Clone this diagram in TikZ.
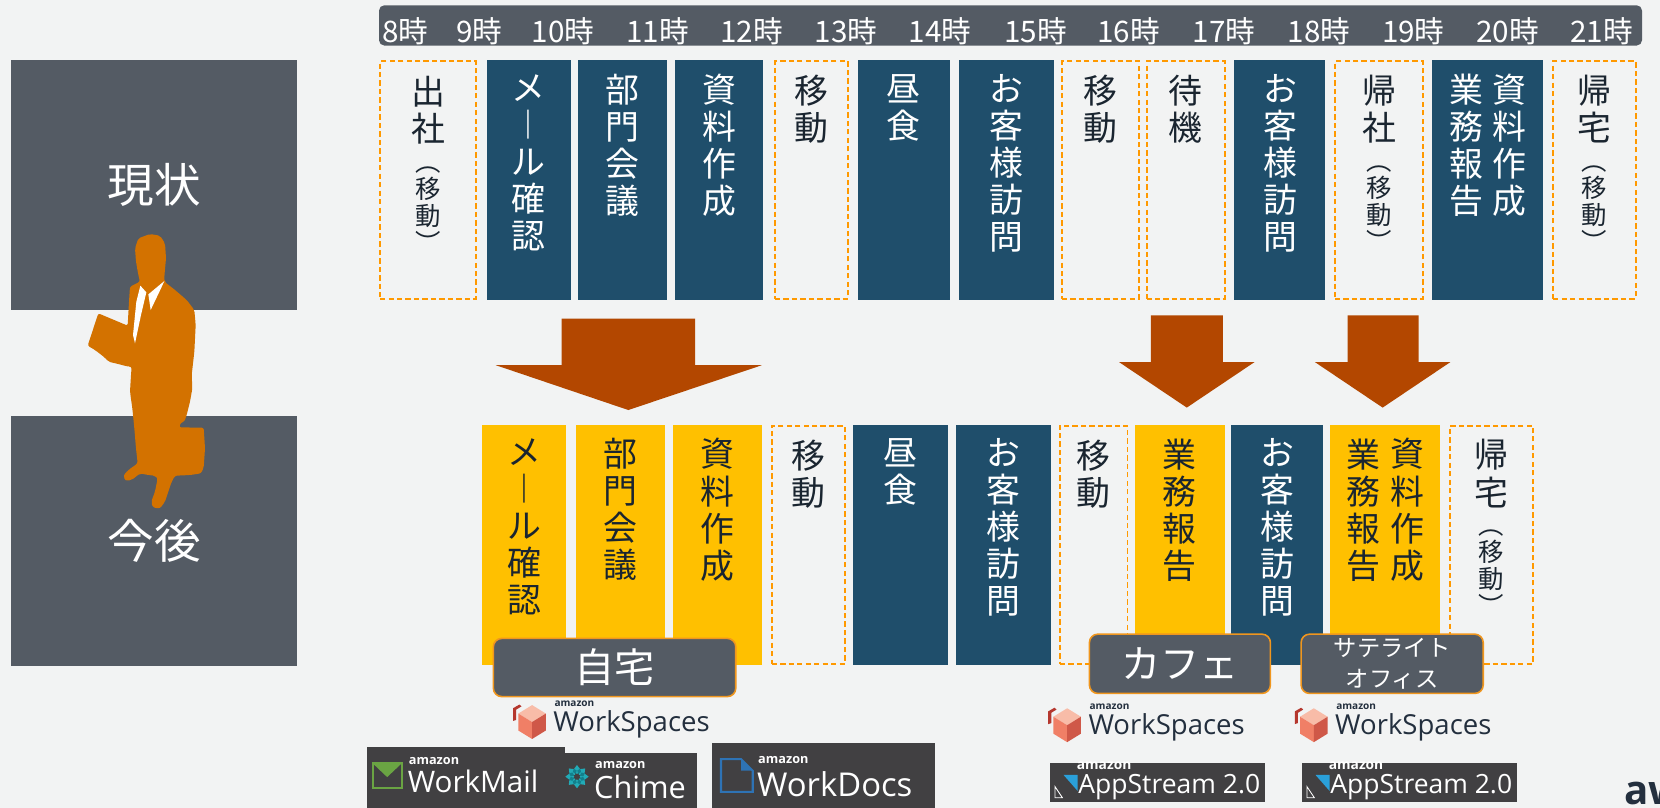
\documentclass[tikz,border=0pt]{standalone}
\usepackage{fontspec}
\setmainfont{Noto Sans CJK JP}
\newfontfamily\logofont{Open Sans}
\usetikzlibrary{positioning}

\definecolor{bg}{HTML}{F2F3F3}
\definecolor{slate}{HTML}{545B64}
\definecolor{navy}{HTML}{1F4E6B}
\definecolor{gold}{HTML}{FFC000}
\definecolor{dashorange}{HTML}{FF9900}
\definecolor{ink}{HTML}{1A2530}
\definecolor{suit}{HTML}{D37200}
\definecolor{rust}{HTML}{B34700}
\definecolor{rim}{HTML}{F0961E}
\definecolor{logobg}{HTML}{414042}
\definecolor{awsink}{HTML}{232F3E}
\definecolor{wsred}{HTML}{B5372E}
\definecolor{wslight}{HTML}{F8BCA8}
\definecolor{wsmid}{HTML}{F07F66}
\definecolor{wsdark}{HTML}{CF5848}
\definecolor{mailgreen}{HTML}{6AA443}
\definecolor{chimeteal}{HTML}{22AAB6}
\definecolor{chimedeep}{HTML}{12808C}
\definecolor{docsblue}{HTML}{2E73B5}
\definecolor{streamblue}{HTML}{2AA0DA}

\tikzset{
  panel/.style={fill=slate, text=white, minimum width=271pt, minimum height=236pt, inner sep=0pt, font=\fontsize{44}{48}\selectfont},
  hour/.style={anchor=base, text=white, inner sep=0pt, font=\fontsize{28}{30}\selectfont},
  slot/.style={rectangle, inner sep=0pt, outer sep=0pt},
  busy/.style={slot, fill=navy},
  remote/.style={slot, fill=gold},
  transit/.style={slot, draw=dashorange, line width=1.8pt, dash pattern=on 5pt off 3pt},
  coltext/.style={anchor=north, inner sep=0pt, align=center, font=\fontsize{32}{35}\selectfont},
  subtext/.style={inner sep=0pt, align=center, font=\fontsize{24}{25.5}\selectfont},
  place/.style={rounded corners=8pt, fill=slate, draw=rim, line width=1.5pt, text=white, inner sep=0pt},
  amz/.style={inner sep=0pt, anchor=base west, font=\logofont\bfseries\fontsize{12}{12}\selectfont},
  brand/.style={inner sep=0pt, anchor=base west, font=\logofont\fontsize{28}{30}\selectfont},
}

% WorkSpaces wordmark, origin at the top left of the cube
\tikzset{
  workspaces/.pic={
    \fill[wsred] (0,3) -- (6,-0.5) -- (8,1.2) -- (3,4.3) -- (3,14) -- (0,15) -- cycle;
    \fill[wslight] (18,0) -- (31,8) -- (18,16) -- (5,8) -- cycle;
    \fill[wsmid] (5,8) -- (18,16) -- (18,32) -- (5,24) -- cycle;
    \fill[wsdark] (18,16) -- (31,8) -- (31,24) -- (18,32) -- cycle;
    \node[amz, text=awsink, font=\logofont\bfseries\fontsize{9.5}{10}\selectfont] (-amz) at (39,1.5) {amazon};
    \node[brand, text=awsink, font=\logofont\fontsize{26}{30}\selectfont] (-name) at (38,25) {WorkSpaces};
  },
  appstream/.pic={
    \fill[logobg] (0,0) rectangle (203,37);
    \fill[streamblue] (12.6,11) -- (25.8,11) -- (25.8,26) -- cycle;
    \draw[white, line width=0.8pt] (4.5,22) -- (4.5,32.5) -- (11.5,32.5) -- cycle;
    \node[amz, text=white, font=\logofont\bfseries\fontsize{13}{13}\selectfont] (-amz) at (25,6) {amazon};
    \node[brand, text=white, font=\logofont\fontsize{25}{28}\selectfont] (-name) at (26.5,28.3) {AppStream 2.0};
  },
}

\begin{document}
\begin{tikzpicture}[x=1pt,y=-1pt]
  \useasboundingbox (0,0) rectangle (1568,763);
  \clip (0,0) rectangle (1568,763);
  \fill[bg] (0,0) rectangle (1568,763);

  % left panels
  \node[panel] (now) at (145.5,175) {現状};
  \node[panel] (next) at (145.5,511) {今後};

  % hours
  \node[fill=slate, rounded corners=5pt, minimum width=1193pt, minimum height=38pt, inner sep=0pt] (timebar) at (954.5,24) {};
  \node[hour] (h8) at (383,40) {8時};
  \node[hour] (h9) at (453,40) {9時};
  \node[hour] (h10) at (532,40) {10時};
  \node[hour] (h11) at (621,40) {11時};
  \node[hour] (h12) at (710,40) {12時};
  \node[hour] (h13) at (799,40) {13時};
  \node[hour] (h14) at (888,40) {14時};
  \node[hour] (h15) at (978,40) {15時};
  \node[hour] (h16) at (1066,40) {16時};
  \node[hour] (h17) at (1156,40) {17時};
  \node[hour] (h18) at (1246,40) {18時};
  \node[hour] (h19) at (1335,40) {19時};
  \node[hour] (h20) at (1424,40) {20時};
  \node[hour] (h21) at (1513,40) {21時};

  % current day
  \node[transit, minimum width=91pt, minimum height=224pt] (t1) at (404.5,170) {};
  \node[coltext, below=14pt of t1.north, text=ink] (t1x) {出\\社};
  \node[subtext, below=21pt of t1x, text=ink] (t1p) {︵\\移\\動\\︶};
  \node[busy, minimum width=79pt, minimum height=226pt] (t2) at (499.5,170) {};
  \node[coltext, below=13pt of t2.north, text=white] (t2x) {メ\\︱\\ル\\確\\認};
  \node[busy, minimum width=84pt, minimum height=226pt] (t3) at (588,170) {};
  \node[coltext, below=13pt of t3.north, text=white] (t3x) {部\\門\\会\\議};
  \node[busy, minimum width=83pt, minimum height=226pt] (t4) at (679.5,170) {};
  \node[coltext, below=13pt of t4.north, text=white] (t4x) {資\\料\\作\\成};
  \node[transit, minimum width=69pt, minimum height=224pt] (t5) at (766.5,170) {};
  \node[coltext, below=13pt of t5.north, text=ink] (t5x) {移\\動};
  \node[busy, minimum width=87pt, minimum height=226pt] (t6) at (853.5,170) {};
  \node[coltext, below=13pt of t6.north, text=white] (t6x) {昼\\食};
  \node[busy, minimum width=90pt, minimum height=226pt] (t7) at (951,170) {};
  \node[coltext, below=13pt of t7.north, text=white] (t7x) {お\\客\\様\\訪\\問};
  \node[transit, minimum width=73pt, minimum height=224pt] (t8) at (1039.5,170) {};
  \node[coltext, below=13pt of t8.north, text=ink] (t8x) {移\\動};
  \node[transit, minimum width=74pt, minimum height=224pt] (t9) at (1120,170) {};
  \node[coltext, below=13pt of t9.north, text=ink] (t9x) {待\\機};
  \node[busy, minimum width=86pt, minimum height=226pt] (t10) at (1209,170) {};
  \node[coltext, below=13pt of t10.north, text=white] (t10x) {お\\客\\様\\訪\\問};
  \node[transit, minimum width=83pt, minimum height=224pt] (t11) at (1302.5,170) {};
  \node[coltext, below=13pt of t11.north, text=ink] (t11x) {帰\\社};
  \node[subtext, below=21pt of t11x, text=ink] (t11p) {︵\\移\\動\\︶};
  \node[busy, minimum width=104pt, minimum height=226pt] (t12) at (1405,170) {};
  \node[coltext, below=13pt of t12.north, xshift=21pt, text=white] (t12r) {資\\料\\作\\成};
  \node[coltext, below=13pt of t12.north, xshift=-20pt, text=white] (t12l) {業\\務\\報\\告};
  \node[transit, minimum width=78pt, minimum height=224pt] (t13) at (1506,170) {};
  \node[coltext, below=13pt of t13.north, text=ink] (t13x) {帰\\宅};
  \node[subtext, below=21pt of t13x, text=ink] (t13p) {︵\\移\\動\\︶};

  % arrows
  \fill[rust] (530.5,301) -- (656.5,301) -- (656.5,345) -- (719.5,345) -- (593.5,387.3) -- (468.5,345) -- (530.5,345) -- cycle;
  \fill[rust] (1087,298) -- (1155,298) -- (1155,342) -- (1185,342) -- (1121,385) -- (1057,342) -- (1087,342) -- cycle;
  \fill[rust] (1273,298) -- (1340,298) -- (1340,342) -- (1370,342) -- (1306,385) -- (1242,342) -- (1273,342) -- cycle;

  % new day
  \node[remote, minimum width=80pt, minimum height=227pt] (b1) at (495,514.5) {};
  \node[coltext, below=13pt of b1.north, text=ink] (b1x) {メ\\︱\\ル\\確\\認};
  \node[remote, minimum width=84pt, minimum height=227pt] (b2) at (586,514.5) {};
  \node[coltext, below=13pt of b2.north, text=ink] (b2x) {部\\門\\会\\議};
  \node[remote, minimum width=84pt, minimum height=227pt] (b3) at (678,514.5) {};
  \node[coltext, below=13pt of b3.north, text=ink] (b3x) {資\\料\\作\\成};
  \node[transit, minimum width=69pt, minimum height=225pt] (b4) at (763.5,514.5) {};
  \node[coltext, below=13pt of b4.north, text=ink] (b4x) {移\\動};
  \node[busy, minimum width=89pt, minimum height=227pt] (b5) at (850.5,514.5) {};
  \node[coltext, below=13pt of b5.north, text=white] (b5x) {昼\\食};
  \node[busy, minimum width=90pt, minimum height=227pt] (b6) at (948,514.5) {};
  \node[coltext, below=13pt of b6.north, text=white] (b6x) {お\\客\\様\\訪\\問};
  \node[transit, minimum width=64pt, minimum height=225pt] (b7) at (1033,514.5) {};
  \node[coltext, below=13pt of b7.north, text=ink] (b7x) {移\\動};
  \node[remote, minimum width=85pt, minimum height=227pt] (b8) at (1114.5,514.5) {};
  \node[coltext, below=13pt of b8.north, text=ink] (b8x) {業\\務\\報\\告};
  \node[busy, minimum width=87pt, minimum height=227pt] (b9) at (1206.5,514.5) {};
  \node[coltext, below=13pt of b9.north, text=white] (b9x) {お\\客\\様\\訪\\問};
  \node[remote, minimum width=104pt, minimum height=227pt] (b10) at (1308,514.5) {};
  \node[coltext, below=13pt of b10.north, xshift=21pt, text=ink] (b10r) {資\\料\\作\\成};
  \node[coltext, below=13pt of b10.north, xshift=-20pt, text=ink] (b10l) {業\\務\\報\\告};
  \node[transit, minimum width=78pt, minimum height=225pt] (b11) at (1409,514.5) {};
  \node[coltext, below=13pt of b11.north, text=ink] (b11x) {帰\\宅};
  \node[subtext, below=21pt of b11x, text=ink] (b11p) {︵\\移\\動\\︶};

  % where the work is done
  \node[place, minimum width=229pt, minimum height=55pt, font=\fontsize{38}{40}\selectfont] (home) at (580.5,630.5) {自宅};
  \node[place, minimum width=171pt, minimum height=56pt, font=\fontsize{37}{40}\selectfont] (cafe) at (1114.5,627) {カフェ};
  \node[place, minimum width=172pt, minimum height=56pt, align=center, font=\fontsize{22}{29}\selectfont] (office) at (1315,627) {サテライト\\オフィス};

  % businessman
  \begin{scope}[shift={(70.84,203.08)}, scale=0.3149]
    \fill[suit, rounded corners=2pt] (225,57) -- (255,62) -- (270,85) -- (273,130) -- (268,185) -- (268,200) -- (300,225) -- (335,255) -- (358,285) -- (362,330) -- (358,410) -- (350,480) -- (352,520) -- (345,560) -- (335,600) -- (328,620) -- (318,622) -- (312,637) -- (386,638) -- (390,700) -- (386,758) -- (378,775) -- (345,780) -- (300,782) -- (290,800) -- (270,860) -- (255,880) -- (235,878) -- (228,862) -- (240,830) -- (248,790) -- (240,782) -- (220,780) -- (195,775) -- (170,795) -- (150,797) -- (146,780) -- (160,765) -- (188,745) -- (183,700) -- (178,640) -- (172,580) -- (165,530) -- (168,480) -- (170,455) -- (160,455) -- (130,447) -- (100,440) -- (90,428) -- (60,405) -- (38,392) -- (70,295) -- (158,332) -- (162,260) -- (165,215) -- (185,205) -- (195,200) -- (190,180) -- (183,140) -- (180,100) -- (190,70) -- cycle;
    \fill[white] (196,212) -- (214,232) -- (198,300) -- (180,385) -- (174,360) -- (184,260) -- cycle; %collar left
    \fill[white] (220,238) -- (268,198) -- (258,220) -- (227,285) -- cycle; %collar right
  \end{scope}

  % services
  \pic (ws1) at (484.6,666) {workspaces};
  \pic (ws2) at (990,669) {workspaces};
  \pic (ws3) at (1223,669) {workspaces};
  \pic (as1) at (992,721) {appstream};
  \pic (as2) at (1230,721) {appstream};

  \fill[logobg] (347,706) rectangle (534,770); %WorkMail
  \draw[mailgreen, line width=2pt] (352,721) rectangle (379.5,744.5);
  \fill[mailgreen] (352,721) -- (379.5,721) -- (365.7,734) -- cycle;
  \node[amz, text=white] (mailamz) at (386,722.5) {amazon};
  \node[brand, text=white] (mail) at (385,749) {WorkMail};

  \fill[logobg] (533.7,711.6) rectangle (658,770); %Chime
  \foreach \a in {0,45,...,315}
    \fill[chimeteal, rotate around={\a:(545,733.6)}] (547.5,733.6) -- (551,729.8) -- (556,733.6) -- (551,737.4) -- cycle;
  \foreach \a in {22.5,67.5,...,337.5}
    \fill[chimedeep, rotate around={\a:(545,733.6)}] (548,733.6) -- (550.5,731.6) -- (553,733.6) -- (550.5,735.6) -- cycle;
  \node[amz, text=white] (chimeamz) at (562,725.5) {amazon};
  \node[brand, text=white, font=\logofont\fontsize{29}{30}\selectfont] (chime) at (561,754) {Chime};

  \fill[logobg] (673,702) rectangle (883,770); %WorkDocs
  \draw[docsblue, line width=2pt] (681,717) -- (700,717) -- (711,728) -- (711,748) -- (681,748) -- cycle;
  \fill[docsblue] (700,717) -- (711,728) -- (700,728) -- cycle;
  \node[amz, text=white] (docsamz) at (716,721) {amazon};
  \node[brand, text=white, font=\logofont\fontsize{31}{32}\selectfont] (docs) at (715,752.5) {WorkDocs};

  \node[inner sep=0pt, anchor=base west, text=awsink, font=\logofont\bfseries\fontsize{38}{40}\selectfont] (aws) at (1534,760) {aw};
\end{tikzpicture}
\end{document}
